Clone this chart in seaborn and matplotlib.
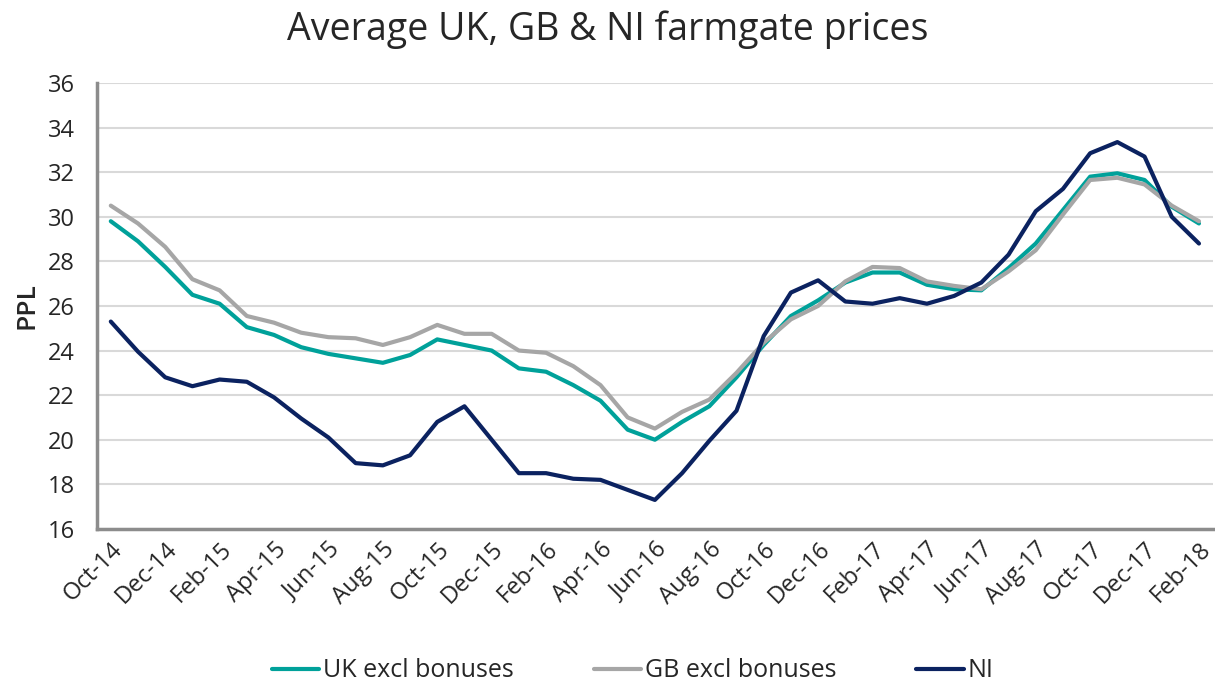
import matplotlib
matplotlib.use("Agg")
import matplotlib.pyplot as plt
import pandas as pd
import seaborn as sns

months = ["Oct-14", "Nov-14", "Dec-14", "Jan-15", "Feb-15", "Mar-15", "Apr-15", "May-15",
          "Jun-15", "Jul-15", "Aug-15", "Sep-15", "Oct-15", "Nov-15", "Dec-15", "Jan-16",
          "Feb-16", "Mar-16", "Apr-16", "May-16", "Jun-16", "Jul-16", "Aug-16", "Sep-16",
          "Oct-16", "Nov-16", "Dec-16", "Jan-17", "Feb-17", "Mar-17", "Apr-17", "May-17",
          "Jun-17", "Jul-17", "Aug-17", "Sep-17", "Oct-17", "Nov-17", "Dec-17", "Jan-18",
          "Feb-18"]

uk = [29.8, 28.9, 27.75, 26.5, 26.1, 25.05, 24.7, 24.15, 23.85, 23.65, 23.45, 23.8,
      24.5, 24.25, 24.0, 23.2, 23.05, 22.45, 21.75, 20.45, 20.0, 20.8, 21.5, 22.8,
      24.25, 25.55, 26.25, 27.05, 27.5, 27.5, 26.95, 26.75, 26.7, 27.7, 28.8, 30.3,
      31.8, 31.95, 31.65, 30.45, 29.7]

gb = [30.5, 29.7, 28.65, 27.2, 26.7, 25.55, 25.25, 24.8, 24.6, 24.55, 24.25, 24.6,
      25.15, 24.75, 24.75, 24.0, 23.9, 23.3, 22.45, 21.0, 20.5, 21.25, 21.8, 23.0,
      24.35, 25.4, 26.0, 27.1, 27.75, 27.7, 27.1, 26.9, 26.75, 27.55, 28.5, 30.1,
      31.65, 31.75, 31.45, 30.5, 29.8]

ni = [25.3, 23.95, 22.8, 22.4, 22.7, 22.6, 21.9, 20.95, 20.1, 18.95, 18.85, 19.3,
      20.8, 21.5, 20.0, 18.5, 18.5, 18.25, 18.2, 17.75, 17.3, 18.5, 19.95, 21.3,
      24.65, 26.6, 27.15, 26.2, 26.1, 26.35, 26.1, 26.45, 27.05, 28.3, 30.25, 31.25,
      32.85, 33.35, 32.7, 30.0, 28.8]

series = ["UK excl bonuses", "GB excl bonuses", "NI"]
colors = ["#00a19a", "#a6a6a6", "#0b2260"]

df = pd.DataFrame({"idx": list(range(len(months))) * 3,
                   "value": uk + gb + ni,
                   "series": [s for s in series for _ in months]})

sns.set_style("white")
plt.rcParams["font.family"] = ["Open Sans", "DejaVu Sans"]

fig, ax = plt.subplots(figsize=(12.15, 6.86), dpi=100)
fig.subplots_adjust(left=0.08, right=0.998, top=0.879, bottom=0.229)

sns.lineplot(data=df, x="idx", y="value", hue="series", hue_order=series,
             palette=colors, linewidth=3, ax=ax, sort=False, legend=True)

ax.set_xlim(-0.5, len(months) - 0.5)
ax.set_ylim(16, 36)
ax.set_yticks(range(16, 37, 2))
ax.set_xticks(range(0, len(months), 2))
ax.set_xticklabels(months[::2], rotation=45, ha="right", rotation_mode="anchor", fontsize=17)
ax.tick_params(axis="y", labelsize=17, length=0, pad=16)
ax.tick_params(axis="x", length=0, pad=6)
ax.grid(axis="y", color="#d9d9d9", linewidth=1.5)
ax.set_axisbelow(True)

for s in ["top", "right"]:
    ax.spines[s].set_visible(False)
for s in ["left", "bottom"]:
    ax.spines[s].set_color("#8c8c8c")
    ax.spines[s].set_linewidth(2.5)

ax.set_xlabel("")
ax.set_ylabel("PPL", fontsize=19, fontweight="semibold", labelpad=6)
fig.suptitle("Average UK, GB & NI farmgate prices", fontsize=27, x=0.5, y=0.985)

ax.legend(loc="upper center", bbox_to_anchor=(0.48, -0.24), ncol=3, frameon=False,
          fontsize=18, handlelength=1.9, handletextpad=0.15, columnspacing=3.2)

fig.savefig("out.png", dpi=100)
